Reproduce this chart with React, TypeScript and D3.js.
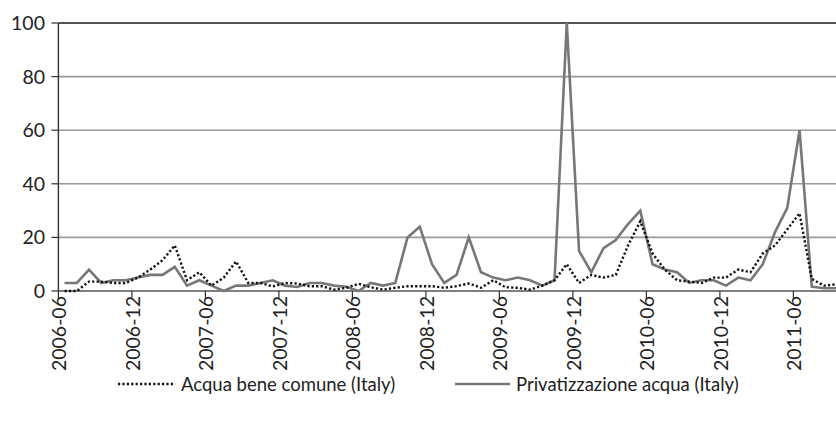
import React from "react";
import * as d3 from "d3";

// Monthly categories 2006-06 .. 2011-09
const months: string[] = d3
  .timeMonth.range(new Date(2006, 5, 1), new Date(2011, 9, 1))
  .map((d) => d3.timeFormat("%Y-%m")(d));

const tickLabels = [
  "2006-06", "2006-12", "2007-06", "2007-12", "2008-06", "2008-12",
  "2009-06", "2009-12", "2010-06", "2010-12", "2011-06",
];

const yTicks = [0, 20, 40, 60, 80, 100];

const acquaBeneComune = [
  0, 0, 3.5, 3.5, 3, 3, 5, 8, 11.5, 17,
  4, 7, 2, 5, 11, 3, 3, 1.7, 3, 2.8,
  1.8, 1.8, 0.5, 1.2, 2.7, 1.4, 0.5, 1.2, 1.8, 1.8,
  1.8, 1.2, 1.8, 2.8, 1.2, 4, 1.4, 1.2, 0.5, 2,
  4, 10, 3, 6, 5, 6, 17, 26, 14, 8,
  4, 3.5, 3, 5, 5, 8, 7, 14, 17, 23,
  29, 4.5, 2, 2.5,
];

const privatizzazioneAcqua = [
  3, 3, 8, 3, 4, 4, 5, 6, 6, 9,
  2, 4, 2, 0, 2, 2, 3, 4, 2, 1.5,
  3, 3, 2, 1.6, 0, 3, 2, 3, 20, 24,
  10, 3, 6, 20, 7, 5, 4, 5, 4, 2,
  4, 100, 15, 7, 16, 19, 25, 30, 10, 8,
  7, 3, 4, 4, 2, 5, 4, 10, 22, 31,
  60, 1.6, 1, 1,
];

const seriesNames = ["Acqua bene comune (Italy)", "Privatizzazione acqua (Italy)"];

const FONT = "Lato, 'Open Sans', 'DejaVu Sans', sans-serif";

export default function App() {
  const W = 836;
  const H = 422;
  const left = 58.4;
  const step = 12.25;
  const x = d3
    .scaleBand<string>()
    .domain(months)
    .range([left, left + months.length * step])
    .padding(0);
  const y = d3.scaleLinear().domain([0, 100]).range([291, 23]);
  const cx = (i: number) => (x(months[i]) as number) + x.bandwidth() / 2;

  const line = d3
    .line<number>()
    .x((_, i) => cx(i))
    .y((d) => y(d));

  const xRight = W + 10;

  return (
    <svg
      width={W}
      height={H}
      style={{ position: "absolute", left: 0, top: 0, background: "#fff" }}
      fontFamily={FONT}
    >
      {/* gridlines */}
      {yTicks.filter((t) => t > 0 && t < 100).map((t) => (
        <line key={t} x1={left} x2={xRight} y1={y(t)} y2={y(t)} stroke="#9a9a9a" strokeWidth={1.6} />
      ))}
      <line x1={left} x2={xRight} y1={y(100)} y2={y(100)} stroke="#1a1a1a" strokeWidth={1.6} />
      {/* y ticks & labels */}
      {yTicks.map((t) => (
        <g key={t}>
          <line x1={left - 7} x2={left} y1={y(t)} y2={y(t)} stroke="#333" strokeWidth={1.2} />
          <text x={45} y={y(t)} dy="0.36em" textAnchor="end" fontSize={19.5} fill="#222">
            {t}
          </text>
        </g>
      ))}
      {/* x axis */}
      <line x1={left} x2={xRight} y1={y(0)} y2={y(0)} stroke="#555" strokeWidth={1.6} />
      <line x1={left} x2={left} y1={y(100)} y2={y(0)} stroke="#333" strokeWidth={1.4} />
      {tickLabels.map((lab) => {
        const tx = x(lab) as number;
        return (
          <g key={lab}>
            <line x1={tx} x2={tx} y1={y(0)} y2={y(0) + 7} stroke="#333" strokeWidth={1.2} />
            <text
              transform={`translate(${tx + 1},${y(0) + 5}) rotate(-90)`}
              textAnchor="end"
              dy="0.36em"
              fontSize={19.5}
              fill="#222"
            >
              {lab}
            </text>
          </g>
        );
      })}
      {/* series */}
      <path d={line(privatizzazioneAcqua) || ""} fill="none" stroke="#777" strokeWidth={2.6} strokeLinejoin="miter" />
      <path d={line(acquaBeneComune) || ""} fill="none" stroke="#111" strokeWidth={2.4} strokeDasharray="2.2 2.2" />
      {/* legend */}
      <line x1={118} x2={175} y1={384} y2={384} stroke="#111" strokeWidth={2.4} strokeDasharray="2.2 2.2" />
      <text x={181} y={384} dy="0.36em" fontSize={18.5} fill="#222">{seriesNames[0]}</text>
      <line x1={455} x2={510} y1={384} y2={384} stroke="#777" strokeWidth={2.6} />
      <text x={516} y={384} dy="0.36em" fontSize={18.5} fill="#222">{seriesNames[1]}</text>
    </svg>
  );
}
